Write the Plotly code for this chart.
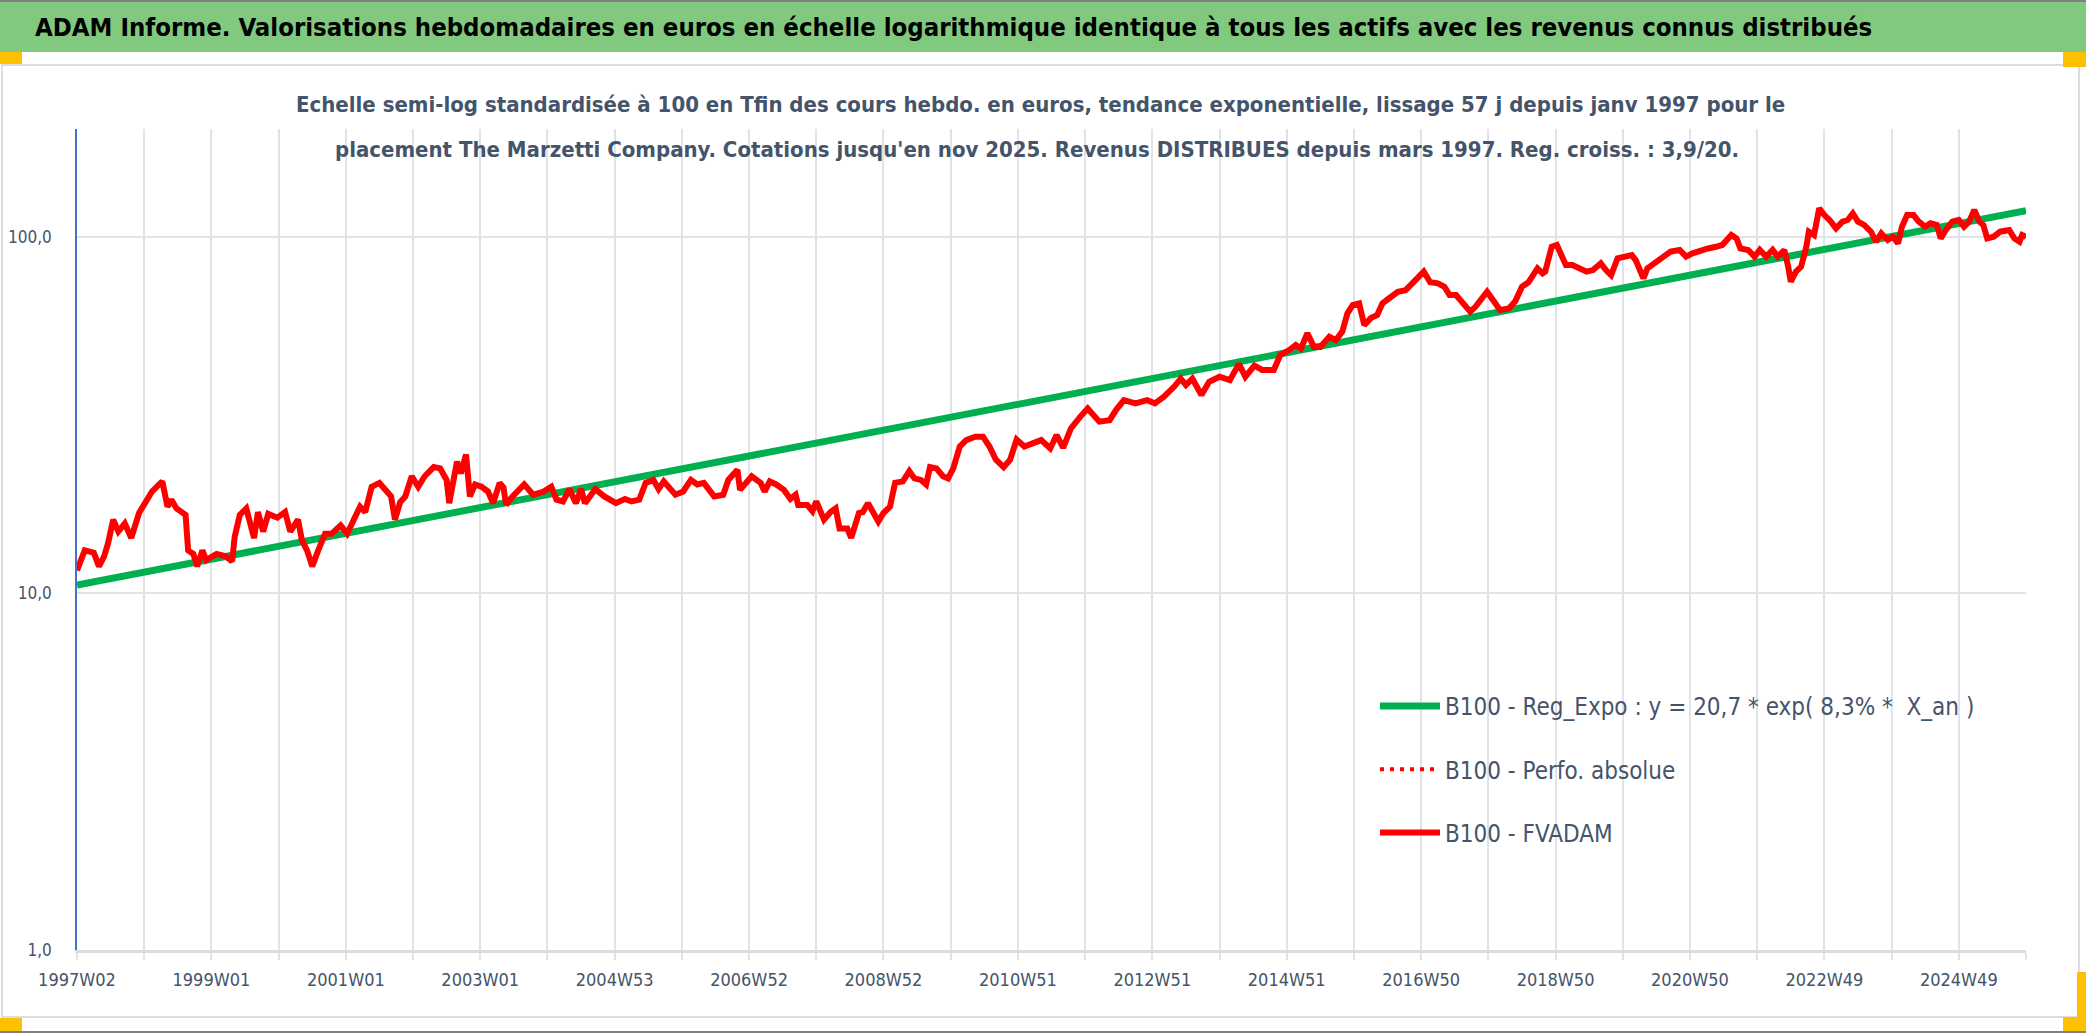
import plotly.graph_objects as go

# --- donnees (semaine depuis 1997W02, valeur base 100) ---
weeks = [0, 6, 13, 17, 21, 24, 28, 32, 37, 42, 48, 53, 58, 63, 66, 70, 73, 77, 84, 86,
         90, 93, 97, 100, 108, 115, 120, 122, 126, 131, 137, 140, 144, 148, 155, 161, 165, 171, 174, 178,
         182, 187, 192, 197, 204, 209, 214, 219, 223, 228, 234, 240, 243, 246, 250, 254, 259, 264, 269, 276,
         281, 286, 288, 294, 297, 301, 304, 308, 313, 318, 322, 327, 330, 332, 337, 346, 353, 361, 367, 371,
         376, 381, 386, 390, 393, 401, 408, 417, 424, 429, 435, 440, 446, 450, 454, 463, 469, 475, 480, 485,
         493, 500, 504, 511, 513, 522, 529, 532, 536, 541, 547, 552, 556, 558, 565, 569, 572, 578, 583, 587,
         590, 596, 599, 605, 608, 612, 620, 624, 629, 633, 639, 644, 648, 653, 657, 660, 665, 670, 674, 678,
         683, 688, 695, 701, 706, 711, 717, 722, 727, 733, 740, 746, 753, 758, 763, 769, 776, 782, 791, 799,
         804, 810, 819, 828, 834, 841, 849, 854, 858, 863, 870, 876, 884, 892, 899, 904, 911, 917, 926, 931,
         938, 943, 947, 952, 957, 962, 969, 974, 979, 983, 987, 992, 996, 1001, 1006, 1010, 1015, 1022, 1028, 1033,
         1038, 1042, 1047, 1053, 1058, 1062, 1067, 1073, 1078, 1082, 1087, 1091, 1096, 1101, 1108, 1113, 1118, 1123, 1130, 1134,
         1136, 1139, 1141, 1145, 1148, 1152, 1157, 1163, 1168, 1173, 1179, 1183, 1187, 1192, 1197, 1203, 1206, 1212, 1215, 1222,
         1228, 1233, 1240, 1245, 1250, 1257, 1262, 1268, 1273, 1280, 1284, 1287, 1293, 1298, 1302, 1307, 1312, 1316, 1321, 1324,
         1326, 1330, 1334, 1338, 1340, 1344, 1348, 1352, 1356, 1361, 1366, 1370, 1374, 1378, 1383, 1388, 1392, 1396, 1401, 1405,
         1409, 1412, 1416, 1421, 1425, 1430, 1434, 1439, 1442, 1446, 1451, 1456, 1460, 1464, 1468, 1472, 1475, 1478, 1483, 1488,
         1495, 1499, 1503, 1505, 1508]
fvadam = [11.6, 13.2, 13.0, 11.9, 12.7, 13.8, 16.1, 14.9, 15.7, 14.3, 16.8, 17.9, 19.3, 20.1, 20.6, 17.5, 18.3, 17.3, 16.6, 13.2,
          12.9, 11.9, 13.2, 12.4, 12.9, 12.7, 12.3, 14.4, 16.6, 17.3, 14.3, 16.9, 14.9, 16.7, 16.3, 16.9, 14.9, 16.1, 14.1, 13.2,
          11.9, 13.3, 14.7, 14.7, 15.5, 14.7, 16.2, 17.5, 16.9, 19.9, 20.4, 19.3, 18.7, 16.1, 18.0, 18.7, 21.3, 19.9, 21.3, 22.6,
          22.4, 20.8, 17.9, 23.4, 21.7, 24.5, 18.7, 20.2, 19.9, 19.3, 17.9, 20.4, 19.8, 17.7, 18.7, 20.2, 18.9, 19.3, 19.9, 18.3,
          18.1, 19.6, 17.9, 19.6, 17.9, 19.6, 18.7, 17.9, 18.4, 18.1, 18.3, 20.4, 20.8, 19.6, 20.6, 18.9, 19.3, 20.8, 20.2, 20.4,
          18.7, 18.9, 20.8, 22.2, 19.5, 21.3, 20.4, 19.3, 20.6, 20.2, 19.5, 18.4, 18.9, 17.7, 17.7, 17.0, 18.1, 16.1, 16.9, 17.3,
          15.2, 15.2, 14.3, 16.8, 16.9, 17.9, 15.9, 16.8, 17.5, 20.4, 20.6, 22.0, 21.0, 20.8, 20.2, 22.6, 22.4, 21.3, 21.0, 22.4,
          25.8, 26.9, 27.5, 27.5, 25.8, 23.7, 22.6, 23.7, 27.0, 25.8, 26.3, 26.9, 25.5, 27.8, 25.6, 29.0, 31.2, 33.0, 30.3, 30.6,
          32.7, 34.8, 34.1, 34.8, 34.1, 35.6, 38.0, 40.0, 38.4, 40.0, 36.0, 39.2, 40.5, 39.6, 44.0, 40.5, 43.5, 42.3, 42.3, 46.6,
          48.1, 49.7, 48.6, 53.6, 49.1, 49.1, 52.4, 51.3, 54.2, 61.0, 64.3, 65.0, 56.5, 59.1, 60.3, 65.0, 67.1, 70.1, 70.8, 74.0,
          78.0, 79.8, 74.5, 74.0, 72.4, 68.6, 68.6, 65.0, 61.6, 63.6, 67.1, 70.1, 66.1, 62.3, 62.9, 66.1, 72.4, 74.5, 81.5, 78.9,
          79.8, 90.0, 93.7, 94.8, 88.8, 83.3, 83.3, 81.5, 79.8, 80.6, 84.2, 80.6, 78.0, 87.0, 87.9, 88.8, 86.0, 76.4, 81.5, 85.1,
          87.9, 90.8, 91.8, 87.9, 89.8, 91.8, 92.7, 93.7, 94.8, 101.1, 98.9, 92.7, 91.8, 87.9, 91.8, 87.9, 91.8, 87.9, 91.8, 82.4,
          74.8, 79.8, 82.4, 93.7, 103.3, 101.1, 120.1, 115.0, 111.4, 105.5, 110.2, 111.4, 116.2, 110.2, 107.8, 103.3, 96.8, 102.2, 97.9, 100.0,
          95.8, 106.7, 115.0, 115.0, 110.2, 106.7, 109.0, 107.8, 98.9, 104.4, 110.2, 111.4, 106.7, 110.2, 118.8, 110.2, 107.8, 98.9, 100.0, 103.3,
          104.4, 98.9, 96.8, 101.1, 100.0]

# droite de regression exponentielle (extremites lues)
reg_weeks = [0, 1508]
reg_values = [10.55, 118.3]

tick_labels = ["1997W02", "1999W01", "2001W01", "2003W01", "2004W53", "2006W52", "2008W52", "2010W51",
               "2012W51", "2014W51", "2016W50", "2018W50", "2020W50", "2022W49", "2024W49"]
tick_weeks = [i * 104 for i in range(len(tick_labels))]

FONT = "Liberation Sans Narrow, Arial Narrow, DejaVu Sans Condensed, sans-serif"
TXT = "#44546A"
GRID = "#E0E3E8"

W, H = 2086, 1033
L, R, T, B = 77, 2026, 129, 950


def px(x):
    return (x - L) / (R - L)


def py(y):
    return (B - y) / (B - T)


fig = go.Figure()
fig.add_trace(go.Scatter(x=reg_weeks, y=reg_values, mode="lines", legendgroup="a",
                         name="B100 - Reg_Expo : y = 20,7 * exp( 8,3% *  X_an )",
                         line=dict(color="#00B050", width=7)))
fig.add_trace(go.Scatter(x=weeks, y=fvadam, mode="lines", legendgroup="b",
                         name="B100 - Perfo. absolue",
                         line=dict(color="#FF0000", width=4, dash="4px,6px")))
fig.add_trace(go.Scatter(x=weeks, y=fvadam, mode="lines", legendgroup="c",
                         name="B100 - FVADAM",
                         line=dict(color="#FF0000", width=6)))

# cadre facon Excel
shapes = [
    dict(type="rect", x0=px(0), x1=px(W), y0=py(52), y1=py(0), fillcolor="#80C97F", line_width=0),
    dict(type="line", x0=px(0), x1=px(W), y0=py(1), y1=py(1), line=dict(color="#7F7F7F", width=2)),
    dict(type="line", x0=px(0), x1=px(W), y0=py(1032), y1=py(1032), line=dict(color="#7F7F7F", width=2)),
    dict(type="rect", x0=px(2), x1=px(2079), y0=py(1017), y1=py(65), line=dict(color="#DADDE2", width=2)),
    dict(type="rect", x0=px(0), x1=px(22), y0=py(64), y1=py(52), fillcolor="#FFC000", line_width=0),
    dict(type="rect", x0=px(2063), x1=px(W), y0=py(67), y1=py(52), fillcolor="#FFC000", line_width=0),
    dict(type="rect", x0=px(0), x1=px(22), y0=py(1031), y1=py(1018), fillcolor="#FFC000", line_width=0),
    dict(type="rect", x0=px(2077), x1=px(W), y0=py(1031), y1=py(972), fillcolor="#FFC000", line_width=0),
    dict(type="rect", x0=px(2063), x1=px(W), y0=py(1031), y1=py(1017), fillcolor="#FFC000", line_width=0),
]
for s in shapes:
    s.update(xref="paper", yref="paper", layer="below")

annotations = [
    dict(text="<b>ADAM Informe. Valorisations hebdomadaires en euros en échelle logarithmique identique "
              "à tous les actifs avec les revenus connus distribués</b>",
         x=px(33), y=py(27), xanchor="left", yanchor="middle",
         font=dict(family=FONT, size=25.5, color="#000000")),
    dict(text="<b>Echelle semi-log standardisée à 100 en Tfin des cours hebdo. en euros, tendance exponentielle, "
              "lissage 57 j depuis janv 1997 pour le</b>",
         x=px(1040), y=py(105), xanchor="center", yanchor="middle",
         font=dict(family=FONT, size=22, color=TXT)),
    dict(text="<b>placement The Marzetti Company. Cotations jusqu'en nov 2025. Revenus DISTRIBUES depuis mars 1997. "
              "Reg. croiss. : 3,9/20.</b>",
         x=px(1037), y=py(149), xanchor="center", yanchor="middle",
         font=dict(family=FONT, size=22, color=TXT)),
]
for a in annotations:
    a.update(xref="paper", yref="paper", showarrow=False)

fig.update_layout(
    width=W, height=H, autosize=False,
    margin=dict(l=L, r=W - R, t=T, b=H - B, pad=0),
    paper_bgcolor="white", plot_bgcolor="white",
    font=dict(family=FONT, color=TXT),
    shapes=shapes, annotations=annotations,
    showlegend=True,
    legend=dict(x=px(1375), y=py(684), xanchor="left", yanchor="top",
                bgcolor="rgba(0,0,0,0)", font=dict(family=FONT, size=24, color=TXT),
                itemwidth=60, tracegroupgap=29, traceorder="grouped"),
)
fig.update_xaxes(range=[0, 1508], tickmode="array", tickvals=tick_weeks, ticktext=tick_labels,
                 showgrid=True, gridcolor=GRID, gridwidth=2, zeroline=False,
                 ticks="outside", ticklen=7, tickwidth=2, tickcolor=GRID,
                 minor=dict(tickmode="linear", tick0=0, dtick=52, showgrid=True, gridcolor=GRID,
                            gridwidth=2, ticks="outside", ticklen=7, tickwidth=2, tickcolor=GRID),
                 showline=True, linecolor="#D9DCE1", linewidth=3,
                 ticklabelstandoff=4, tickfont=dict(family=FONT, size=18, color=TXT),
                 automargin=False)
fig.update_yaxes(type="log", range=[0, 2.302], tickmode="array", tickvals=[1, 10, 100],
                 ticktext=["1,0", "10,0", "100,0"], showgrid=True, gridcolor=GRID, gridwidth=2,
                 zeroline=False, ticks="", showline=True, linecolor="#4472C4", linewidth=1.5,
                 ticklabelstandoff=20, tickfont=dict(family=FONT, size=17, color=TXT),
                 automargin=False)

# la page par defaut a une marge de 8px autour du graphique
fig.write_html("out.html", config={"displayModeBar": False},
               post_script="document.body.style.margin='0px';")
